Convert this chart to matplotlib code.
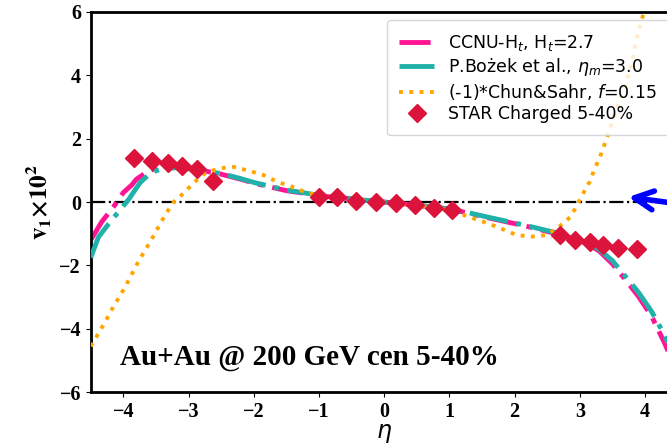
import numpy as np
import matplotlib
matplotlib.use('Agg')
import matplotlib.pyplot as plt

# CCNU-Ht model
ccnu_eta = [-4.5, -4.33, -4.15, -4.0, -3.87, -3.8, -3.6, -3.4, -3.2, -3.0, -2.8, -2.5, -2.2, -2.0, -1.8,
            -1.5, -1.2, -1.0, -0.5, 0.0, 0.5, 1.0, 1.3, 1.6, 2.0, 2.3, 2.6, 2.9, 3.1, 3.3, 3.5, 3.7,
            3.9, 4.1, 4.3, 4.5]
ccnu_v1 = [-1.2, -0.62, -0.15, 0.3, 0.54, 0.72, 1.0, 1.1, 1.12, 1.08, 1.0, 0.88, 0.72, 0.6, 0.5,
           0.36, 0.27, 0.2, 0.1, 0.0, -0.1, -0.22, -0.35, -0.5, -0.68, -0.82, -0.98, -1.15, -1.3, -1.55,
           -1.95, -2.45, -2.98, -3.6, -4.45, -5.4]

# Bozek model
bozek_eta = [-4.5, -4.38, -4.2, -4.05, -3.92, -3.74, -3.57, -3.4, -3.2, -3.0, -2.8, -2.5, -2.2, -2.0,
             -1.8, -1.5, -1.2, -1.0, -0.5, 0.0, 0.5, 1.0, 1.3, 1.6, 2.0, 2.3, 2.6, 2.9, 3.1, 3.3, 3.5,
             3.7, 3.9, 4.1, 4.3, 4.5]
bozek_v1 = [-1.75, -1.1, -0.62, -0.25, 0.08, 0.62, 0.94, 1.05, 1.08, 1.05, 0.99, 0.9, 0.74, 0.62,
            0.52, 0.38, 0.28, 0.21, 0.1, 0.0, -0.1, -0.22, -0.34, -0.48, -0.66, -0.8, -0.95, -1.1,
            -1.25, -1.5, -1.85, -2.35, -2.85, -3.45, -4.2, -5.1]

# (-1)*Chun&Sahr model
chun_eta = [-4.5, -4.38, -4.28, -4.18, -3.97, -3.77, -3.56, -3.36, -3.23, -3.07, -2.92, -2.75, -2.54,
            -2.31, -2.08, -1.85, -1.64, -1.41, -1.18, -0.9, -0.5, 0.0, 0.5, 0.9, 1.15, 1.36, 1.59, 1.82,
            2.03, 2.26, 2.49, 2.67, 2.85, 2.95, 3.05, 3.15, 3.23, 3.31, 3.38, 3.46, 3.54, 3.64, 3.72,
            3.8, 3.86, 3.92, 3.97, 4.02]
chun_v1 = [-4.55, -4.14, -3.78, -3.4, -2.67, -1.88, -1.15, -0.41, 0.0, 0.29, 0.61, 0.9, 1.06,
           1.11, 0.99, 0.85, 0.64, 0.48, 0.29, 0.18, 0.08, 0.0, -0.1, -0.22, -0.36, -0.51, -0.67, -0.86,
           -1.04, -1.09, -1.04, -0.8, -0.48, -0.13, 0.27, 0.64, 1.06, 1.43, 1.83, 2.3, 2.8, 3.43, 3.85,
           4.38, 5.06, 5.53, 5.9, 6.3]

# STAR charged hadrons 5-40%
star_eta = [-3.83, -3.56, -3.31, -3.10, -2.87, -2.63,
            -1.0, -0.72, -0.43, -0.12, 0.18, 0.47, 0.77, 1.04,
            2.69, 2.92, 3.15, 3.36, 3.59, 3.87]
star_v1 = [1.38, 1.30, 1.22, 1.14, 1.03, 0.67,
           0.17, 0.15, 0.04, 0.01, -0.04, -0.09, -0.20, -0.25,
           -1.04, -1.20, -1.25, -1.36, -1.46, -1.49]

xticks = [-4, -3, -2, -1, 0, 1, 2, 3, 4]
yticks = [-6, -4, -2, 0, 2, 4, 6]

fig = plt.figure(figsize=(6.67, 4.44), dpi=100)
ax = fig.add_axes([0.136, 0.1164, 0.880, 0.857])

ax.axhline(0, color='k', ls='-.', lw=1.6, zorder=1)

ax.plot(ccnu_eta, ccnu_v1, color='deeppink', lw=3.5, ls=(0, (6.4, 1.8, 1.2, 1.8)),
        label=r'CCNU-H$_t$, H$_t$=2.7', zorder=2)
ax.plot(bozek_eta, bozek_v1, color='lightseagreen', lw=3.5, ls=(0, (8, 1.8, 1, 1.8)),
        label=r'P.Bożek et al., $\eta_m$=3.0', zorder=3)
ax.plot(chun_eta, chun_v1, color='orange', lw=2.8, ls=':',
        label=r'(-1)*Chun&Sahr, $f$=0.15', zorder=4)
ax.plot(star_eta, star_v1, 'D', color='crimson', ms=9, ls='none',
        label='STAR Charged 5-40%', zorder=5)

ax.annotate('', xy=(3.7, 0.17), xytext=(4.6, -0.08), annotation_clip=False,
            arrowprops=dict(arrowstyle='->', color='blue', lw=4, mutation_scale=34))

ax.text(0.05, 0.072, 'Au+Au @ 200 GeV cen 5-40%', transform=ax.transAxes,
        fontsize=21, fontweight='bold', family='Liberation Serif')

ax.set_xlim(-4.5, 4.5)
ax.set_ylim(-6, 6)
ax.set_xticks(xticks)
ax.set_yticks(yticks)
for lab in ax.get_xticklabels() + ax.get_yticklabels():
    lab.set_fontfamily('Liberation Serif')
    lab.set_fontweight('bold')
    lab.set_fontsize(14.5)

ax.set_xlabel(r'$\eta$', fontsize=17, labelpad=-1)
ax.set_ylabel(r'$\mathbf{v_1{\times}10^2}$', fontsize=18, math_fontfamily='stix', labelpad=4)

for sp in ax.spines.values():
    sp.set_linewidth(2)

ax.legend(loc='upper right', fontsize=12.5, labelspacing=0.2, borderpad=0.7)

fig.savefig('out.png', dpi=100)
